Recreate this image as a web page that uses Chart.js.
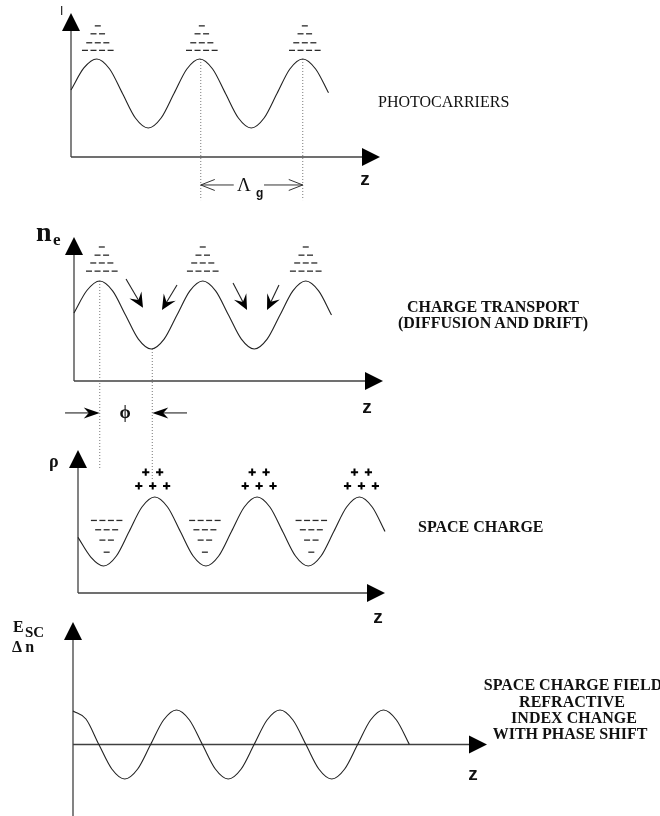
<!DOCTYPE html>
<html><head><meta charset="utf-8">
<script src="https://cdn.jsdelivr.net/npm/chart.js@4.4.1/dist/chart.umd.min.js"></script>
<style>
html,body{margin:0;padding:0;background:#fff;}
#stage{position:relative;width:660px;height:816px;overflow:hidden;background:#fff;}
#stage canvas{position:absolute;left:0;top:0;}
.lbl{position:absolute;white-space:nowrap;color:#111;}
</style></head>
<body><div id="stage">
<canvas id="p1" width="660" height="816"></canvas>
<canvas id="p2" width="660" height="816"></canvas>
<canvas id="p3" width="660" height="816"></canvas>
<canvas id="p4" width="660" height="816"></canvas>
</div>
<script>
// ---------- DATA (z in grating periods, values normalised: peak = 1, trough = -1) ----------
const photoZ = [0,0.125,0.25,0.375,0.5,0.625,0.75,0.875,1,1.125,1.25,1.375,1.5,1.625,1.75,1.875,2,2.125,2.25,2.375,2.5];
const photoI = [0.1,0.74,1,0.71,0,-0.71,-1,-0.71,0,0.71,1,0.71,0,-0.71,-1,-0.71,0,0.71,1,0.71,0.02];

const transZ = [0,0.125,0.25,0.375,0.5,0.625,0.75,0.875,1,1.125,1.25,1.375,1.5,1.625,1.75,1.875,2,2.125,2.25,2.375,2.5];
const transN = [0.06,0.72,1,0.71,0,-0.71,-1,-0.71,0,0.71,1,0.71,0,-0.71,-1,-0.71,0,0.71,1,0.71,0];

const spaceZ = [0,0.125,0.25,0.375,0.5,0.625,0.75,0.875,1,1.125,1.25,1.375,1.5,1.625,1.75,1.875,2,2.125,2.25,2.375,2.5,2.625,2.75,2.875,3];
const spaceRho = [-0.17,-0.74,-1,-0.71,0,0.71,1,0.71,0,-0.71,-1,-0.71,0,0.71,1,0.71,0,-0.71,-1,-0.71,0,0.71,1,0.71,0];

const fieldZ = [0,0.125,0.25,0.375,0.5,0.625,0.75,0.875,1,1.125,1.25,1.375,1.5,1.625,1.75,1.875,2,2.125,2.25,2.375,2.5,2.625,2.75,2.875,3,3.125,3.25];
const fieldE = [0.97,0.74,0,-0.71,-1,-0.71,0,0.71,1,0.71,0,-0.71,-1,-0.71,0,0.71,1,0.71,0,-0.71,-1,-0.71,0,0.71,1,0.71,0];

// charge markers
const photoDashCenters = [0.26, 1.27, 2.27];
const photoDashRows = [1.96, 1.73, 1.47, 1.25];
const photoDashCounts = [1, 2, 3, 4];

const transDashCenters = [0.27, 1.25, 2.25];
const transDashRows = [2.0, 1.76, 1.53, 1.29];
const transDashCounts = [1, 2, 3, 4];

const spacePlusCenters = [0.73, 1.77, 2.77];
const spacePlusRows = [1.72, 1.32];
const spacePlusCounts = [2, 3];

const spaceDashCenters = [0.28, 1.24, 2.28];
const spaceDashRows = [0.32, 0.05, -0.25, -0.6];
const spaceDashCounts = [4, 3, 2, 1];

// drift arrows (z0, n0 -> z1, n1)
const driftArrows = [[0.505,1.06,0.67,0.21],[1.0,0.88,0.854,0.15],[1.544,0.94,1.68,0.15],[1.99,0.88,1.874,0.15]];
// grating period marker and phase shift marker
const periodGuides = [[1.26, 1, -3.09], [2.25, 1, -3.09]];
const periodArrows = [[1.58, -2.652, 1.26, -2.652], [1.874, -2.652, 2.25, -2.652]];
const phaseGuides = [[0.25, 1, -4.5], [0.76, -1, -4.85]];
const phaseArrows = [[-0.087, -2.88, 0.25, -2.88], [1.097, -2.88, 0.76, -2.88]];

// ---------- helpers ----------
const DASH_STEP = 0.083, PLUS_STEP = 0.136;
function grid(centers, rows, counts, step){
  const out = [];
  centers.forEach(c => rows.forEach((r, i) => {
    const n = counts[i];
    for (let k = 0; k < n; k++) out.push({x: c + (k - (n - 1) / 2) * step, y: r});
  }));
  return out;
}
function pts(zs, vs){ return zs.map((z, i) => ({x: z, y: vs[i]})); }

const EXTRAS = {
  p1: {xAxisAt: null, guides: periodGuides, openArrows: periodArrows},
  p2: {xAxisAt: null, guides: phaseGuides, solidArrows: driftArrows, thinArrows: phaseArrows},
  p3: {xAxisAt: null},
  p4: {xAxisAt: 0}
};

function head(ctx, x1, y1, x2, y2, len, half, notch, filled){
  const L = Math.hypot(x2 - x1, y2 - y1), dx = (x2 - x1) / L, dy = (y2 - y1) / L;
  const nx = -dy, ny = dx;
  const bx = x2 - dx * len, by = y2 - dy * len;
  if (filled){
    ctx.beginPath();
    ctx.moveTo(x2, y2);
    ctx.lineTo(bx + nx * half, by + ny * half);
    ctx.lineTo(x2 - dx * notch, y2 - dy * notch);
    ctx.lineTo(bx - nx * half, by - ny * half);
    ctx.closePath(); ctx.fill();
  } else {
    ctx.beginPath();
    ctx.moveTo(bx + nx * half, by + ny * half); ctx.lineTo(x2, y2); ctx.lineTo(bx - nx * half, by - ny * half);
    ctx.stroke();
  }
}

const decor = {
  id: 'decor',
  beforeDatasetsDraw(chart){
    const ex = EXTRAS[chart.canvas.id]; if (!ex) return;
    const ctx = chart.ctx, xs = chart.scales.x, ys = chart.scales.y;
    const X = v => xs.getPixelForValue(v), Y = v => ys.getPixelForValue(v);
    ctx.save();
    const ax = X(0), ay = Y(ex.xAxisAt === null ? ys.min : ex.xAxisAt);
    const topY = Y(ys.max), rightX = X(xs.max);
    ctx.strokeStyle = '#404040'; ctx.lineWidth = 1.3;
    ctx.beginPath(); ctx.moveTo(ax, Y(ys.min)); ctx.lineTo(ax, topY + 12); ctx.stroke();
    ctx.beginPath(); ctx.moveTo(ax, ay); ctx.lineTo(rightX - 12, ay); ctx.stroke();
    ctx.fillStyle = '#000';
    ctx.beginPath(); ctx.moveTo(ax, topY); ctx.lineTo(ax - 9, topY + 18); ctx.lineTo(ax + 9, topY + 18); ctx.closePath(); ctx.fill();
    ctx.beginPath(); ctx.moveTo(rightX, ay); ctx.lineTo(rightX - 18, ay - 9); ctx.lineTo(rightX - 18, ay + 9); ctx.closePath(); ctx.fill();
    ctx.setLineDash([1, 2]); ctx.strokeStyle = '#777'; ctx.lineWidth = 1;
    (ex.guides || []).forEach(g => { ctx.beginPath(); ctx.moveTo(X(g[0]), Y(g[1])); ctx.lineTo(X(g[0]), Y(g[2])); ctx.stroke(); });
    ctx.setLineDash([]);
    ctx.restore();
  },
  afterDatasetsDraw(chart){
    const ex = EXTRAS[chart.canvas.id]; if (!ex) return;
    const ctx = chart.ctx, xs = chart.scales.x, ys = chart.scales.y;
    const X = v => xs.getPixelForValue(v), Y = v => ys.getPixelForValue(v);
    ctx.save();
    ctx.fillStyle = '#000'; ctx.strokeStyle = '#222';
    (ex.solidArrows || []).forEach(a => {
      const x1 = X(a[0]), y1 = Y(a[1]), x2 = X(a[2]), y2 = Y(a[3]);
      const L = Math.hypot(x2 - x1, y2 - y1);
      ctx.lineWidth = 1.1;
      ctx.beginPath(); ctx.moveTo(x1, y1); ctx.lineTo(x2 - (x2 - x1) / L * 8, y2 - (y2 - y1) / L * 8); ctx.stroke();
      head(ctx, x1, y1, x2, y2, 15, 7, 9, true);
    });
    (ex.thinArrows || []).forEach(a => {
      const x1 = X(a[0]), y1 = Y(a[1]), x2 = X(a[2]), y2 = Y(a[3]);
      ctx.lineWidth = 1.1;
      ctx.beginPath(); ctx.moveTo(x1, y1); ctx.lineTo(x2 - Math.sign(x2 - x1) * 6, y2); ctx.stroke();
      head(ctx, x1, y1, x2, y2, 16, 5.5, 11, true);
    });
    (ex.openArrows || []).forEach(a => {
      const x1 = X(a[0]), y1 = Y(a[1]), x2 = X(a[2]), y2 = Y(a[3]);
      ctx.lineWidth = 1; ctx.strokeStyle = '#333';
      ctx.beginPath(); ctx.moveTo(x1, y1); ctx.lineTo(x2, y2); ctx.stroke();
      head(ctx, x1, y1, x2, y2, 14, 5.5, 0, false);
    });
    ctx.restore();
  }
};

const curveStyle = {borderColor: '#222', borderWidth: 1.1, pointRadius: 0, cubicInterpolationMode: 'monotone', fill: false, clip: false};
const dashStyle = {showLine: false, pointStyle: 'line', pointRadius: 3, pointBorderWidth: 1.3, pointBorderColor: '#2a2a2a', borderColor: '#2a2a2a', clip: false};
const plusStyle = {showLine: false, pointStyle: 'cross', pointRadius: 3.6, pointBorderWidth: 2, pointBorderColor: '#000', borderColor: '#000', clip: false};

function makePanel(id, area, xr, yr, datasets){
  return new Chart(document.getElementById(id), {
    type: 'line',
    data: {datasets},
    options: {
      responsive: false, animation: false, events: [],
      layout: {padding: {left: area[0], top: area[1], right: 660 - area[2], bottom: 816 - area[3]}},
      scales: {
        x: {type: 'linear', min: xr[0], max: xr[1], display: false},
        y: {type: 'linear', min: yr[0], max: yr[1], display: false}
      },
      plugins: {legend: {display: false}, tooltip: {enabled: false}}
    },
    plugins: [decor]
  });
}

makePanel('p1', [71, 13, 380, 157], [0, 3], [-1.841, 2.333], [
  Object.assign({data: pts(photoZ, photoI)}, curveStyle),
  Object.assign({data: grid(photoDashCenters, photoDashRows, photoDashCounts, DASH_STEP)}, dashStyle)
]);
makePanel('p2', [74, 237, 383, 381], [0, 3], [-1.941, 2.294], [
  Object.assign({data: pts(transZ, transN)}, curveStyle),
  Object.assign({data: grid(transDashCenters, transDashRows, transDashCounts, DASH_STEP)}, dashStyle)
]);
makePanel('p3', [78, 450, 385, 593], [0, 3], [-1.783, 2.362], [
  Object.assign({data: pts(spaceZ, spaceRho)}, curveStyle),
  Object.assign({data: grid(spacePlusCenters, spacePlusRows, spacePlusCounts, PLUS_STEP)}, plusStyle),
  Object.assign({data: grid(spaceDashCenters, spaceDashRows, spaceDashCounts, DASH_STEP)}, dashStyle)
]);
makePanel('p4', [73, 622, 487, 816], [0, 4], [-2.072, 3.551], [
  Object.assign({data: pts(fieldZ, fieldE)}, curveStyle)
]);

// ---------- text labels ----------
const SERIF = '"Liberation Serif","Times New Roman",serif';
const SANS = '"Liberation Sans",Arial,sans-serif';
const stage = document.getElementById('stage');
function label(text, x, baseline, size, family, weight, align){
  const d = document.createElement('div');
  d.className = 'lbl';
  d.textContent = text;
  d.style.fontFamily = family; d.style.fontSize = size + 'px'; d.style.lineHeight = size + 'px';
  d.style.fontWeight = weight || 'normal';
  d.style.top = (baseline - 0.84 * size) + 'px';
  d.style.left = x + 'px';
  if (align === 'center') d.style.transform = 'translateX(-50%)';
  stage.appendChild(d);
}
label('I', 60, 15, 12, SANS, 'normal');
label('PHOTOCARRIERS', 378, 107, 16, SERIF, 'normal');
label('z', 365, 185, 19, SANS, 'bold', 'center');
label('Λ', 237, 191, 19, SERIF, 'normal');
label('g', 256, 197, 12, SANS, 'bold');

label('n', 36, 242, 28, SERIF, 'bold');
label('e', 53, 245, 17, SERIF, 'bold');
label('CHARGE TRANSPORT', 493, 312, 16, SERIF, 'bold', 'center');
label('(DIFFUSION AND DRIFT)', 493, 328, 16, SERIF, 'bold', 'center');
label('z', 367, 413, 19, SANS, 'bold', 'center');
label('ϕ', 125, 418, 18, SERIF, 'bold', 'center');

label('ρ', 49, 467, 18, SERIF, 'bold');
label('SPACE CHARGE', 418, 532, 16, SERIF, 'bold');
label('z', 378, 623, 19, SANS, 'bold', 'center');

label('E', 13, 632, 16, SERIF, 'bold');
label('SC', 25, 638, 15, SERIF, 'bold');
label('Δ n', 12, 652, 16, SERIF, 'bold');
label('SPACE CHARGE FIELD', 573, 690, 16, SERIF, 'bold', 'center');
label('REFRACTIVE', 572, 707, 16, SERIF, 'bold', 'center');
label('INDEX CHANGE', 574, 723, 16, SERIF, 'bold', 'center');
label('WITH PHASE SHIFT', 570, 739, 16, SERIF, 'bold', 'center');
label('z', 473, 780, 19, SANS, 'bold', 'center');
</script>
</body></html>
